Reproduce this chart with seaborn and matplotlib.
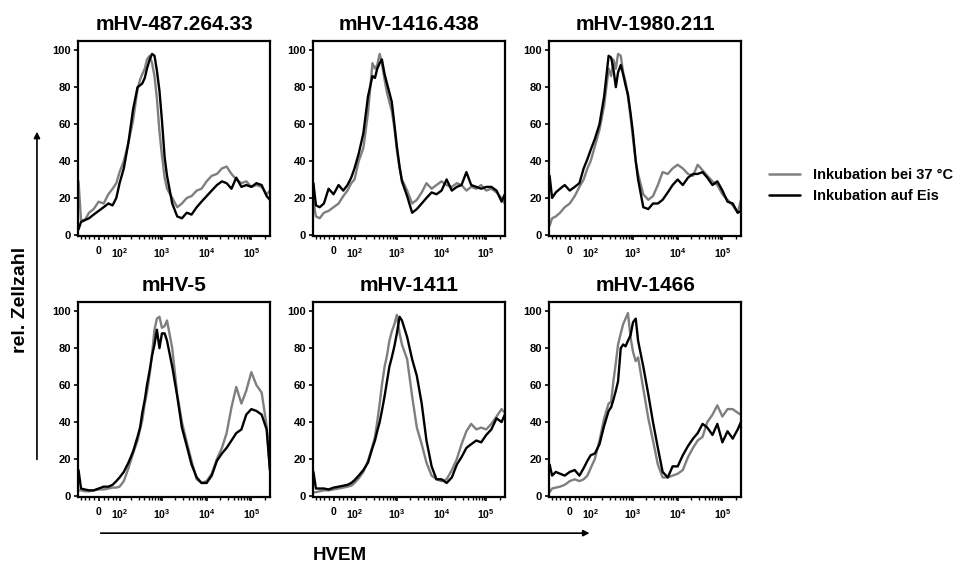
import matplotlib
matplotlib.use("Agg")
import matplotlib.pyplot as plt
import matplotlib.patches as mpatches
from matplotlib.lines import Line2D
from matplotlib.ticker import FixedLocator, FixedFormatter
import pandas as pd
import seaborn as sns

# HVEM intensity bins (shared x values of all histograms)
HVEM_BINS = [-95, -80, -60, -40, -20, 0, 20, 40, 60, 80,
             100, 130, 170, 220,
             280, 320, 360, 410, 460, 530, 600, 680, 770, 880, 1000, 1150, 1300,
             1700, 2200, 2800, 3600, 4600, 6000, 7700, 10000, 13000,
             17000, 22000, 28000, 36000, 46000, 60000, 77000, 100000, 130000, 170000,
             220000, 260000]

PANEL_TITLES = ["mHV-487.264.33", "mHV-1416.438", "mHV-1980.211",
                "mHV-5", "mHV-1411", "mHV-1466"]
CONDITIONS = ["Inkubation bei 37 °C", "Inkubation auf Eis"]
COLORS = ["#7f7f7f", "#000000"]

# relative cell counts (% of max), 37 °C vs. ice
mhv487_37c = [29, 8, 8, 12, 14, 18, 17, 22, 25, 28, 34, 40, 50, 62,
              79, 84, 87, 90, 95, 97, 93, 86, 74, 56, 43, 31, 25,
              20, 15, 17, 20, 21, 24, 25, 29, 32, 33, 36, 37, 33, 30, 28, 29, 26, 27, 26, 22, 24]
mhv487_ice = [3, 7, 8, 9, 11, 13, 15, 17, 16, 20, 28, 36, 50, 68,
              80, 81, 82, 85, 90, 95, 98, 97, 89, 78, 62, 42, 32,
              17, 10, 9, 12, 11, 15, 18, 21, 24, 27, 29, 28, 25, 31, 26, 27, 26, 28, 27, 21, 19]

mhv1416_37c = [18, 10, 9, 12, 13, 15, 17, 21, 24, 28, 30, 40, 47, 66,
               93, 90, 92, 98, 93, 84, 77, 72, 67, 58, 46, 36, 30,
               24, 17, 19, 23, 28, 25, 27, 29, 27, 26, 28, 27, 24, 26, 25, 27, 24, 25, 23, 20, 17]
mhv1416_ice = [28, 16, 15, 17, 25, 22, 27, 24, 27, 31, 36, 44, 55, 75,
               86, 85, 90, 93, 95, 87, 82, 77, 72, 60, 48, 37, 29,
               21, 12, 14, 17, 20, 23, 22, 24, 30, 24, 26, 27, 34, 27, 26, 25, 26, 26, 24, 18, 22]

mhv1980_37c = [5, 9, 10, 12, 15, 17, 21, 26, 30, 36, 40, 48, 57, 70,
               90, 86, 95, 90, 98, 97, 88, 83, 75, 64, 52, 40, 33,
               22, 19, 21, 27, 34, 33, 36, 38, 36, 33, 32, 38, 35, 32, 29, 27, 22, 19, 16, 12, 19]
mhv1980_ice = [32, 20, 23, 25, 27, 24, 26, 28, 36, 41, 46, 52, 60, 75,
               97, 96, 90, 80, 88, 92, 87, 81, 76, 66, 55, 40, 30,
               15, 14, 17, 17, 19, 23, 27, 30, 27, 31, 33, 33, 34, 31, 27, 29, 24, 18, 17, 12, 13]

mhv5_37c = [3, 3, 2.5, 2.5, 3, 3.5, 3.5, 4, 4.5, 4.5, 5, 8, 15, 23,
            30, 36, 41, 50, 56, 66, 77, 90, 96, 97, 91, 92, 95,
            80, 55, 40, 29, 19, 9, 7, 8, 12, 20, 26, 34, 48, 59, 50, 57, 67, 60, 56, 38, 15]
mhv5_ice = [14, 4, 3.5, 3, 3, 4, 5, 5, 6, 8, 10, 13, 18, 24,
            32, 37, 45, 52, 60, 68, 76, 82, 90, 80, 88, 88, 84,
            70, 54, 37, 27, 17, 10, 7, 7, 11, 19, 23, 26, 30, 34, 36, 44, 47, 46, 44, 36, 14]

mhv1411_37c = [2, 2, 2.5, 3, 3, 3.5, 4, 4.5, 5, 5.5, 7, 9.5, 13, 19,
               27, 32, 40, 50, 60, 70, 76, 84, 89, 93, 98, 88, 82,
               74, 54, 37, 28, 18, 11, 9, 8, 9, 14, 20, 28, 35, 39, 36, 37, 36, 39, 43, 47, 45]
mhv1411_ice = [13, 4, 4, 4, 3.5, 4.5, 5, 5.5, 6, 7, 8.5, 11, 14, 18,
               26, 30, 35, 40, 46, 54, 62, 70, 75, 81, 88, 97, 95,
               86, 74, 65, 50, 30, 16, 9, 9, 7, 10, 17, 21, 26, 28, 30, 29, 33, 36, 42, 40, 44]

mhv1466_37c = [2, 4, 4.5, 5, 6, 8, 9, 8, 9, 11, 15, 20, 30, 42,
               50, 51, 62, 72, 82, 88, 93, 96, 99, 86, 78, 73, 75,
               58, 42, 30, 17, 10, 10, 11, 12, 14, 21, 26, 30, 32, 40, 44, 49, 43, 47, 47, 45, 44]
mhv1466_ice = [17, 11, 13, 12, 11, 13, 14, 11, 15, 19, 22, 23, 28, 38,
               46, 48, 52, 57, 62, 80, 82, 81, 84, 87, 94, 96, 84,
               70, 55, 40, 26, 13, 10, 16, 16, 22, 27, 31, 34, 39, 37, 33, 39, 29, 35, 31, 36, 40]

PANEL_SERIES = [(mhv487_37c, mhv487_ice), (mhv1416_37c, mhv1416_ice), (mhv1980_37c, mhv1980_ice),
                (mhv5_37c, mhv5_ice), (mhv1411_37c, mhv1411_ice), (mhv1466_37c, mhv1466_ice)]

MAJOR_TICKS = [0, 100, 1000, 10000, 100000]
MAJOR_LABELS = ["0", r"$\mathbf{10^2}$", r"$\mathbf{10^3}$", r"$\mathbf{10^4}$", r"$\mathbf{10^5}$"]
MINOR_TICKS = ([-80, -60, -40, -20, 20, 40, 60, 80]
               + [m * 100 for m in range(2, 10)] + [m * 1000 for m in range(2, 10)]
               + [m * 10000 for m in range(2, 10)] + [200000])

sns.set_theme(style="ticks")
plt.rcParams["font.family"] = ["Liberation Sans", "DejaVu Sans"]
plt.rcParams["font.weight"] = "bold"
plt.rcParams["text.color"] = "black"
plt.rcParams["xtick.color"] = "black"
plt.rcParams["ytick.color"] = "black"
plt.rcParams["mathtext.fontset"] = "custom"
plt.rcParams["mathtext.rm"] = "Liberation Sans:bold"
plt.rcParams["mathtext.bf"] = "Liberation Sans:bold"

fig = plt.figure(figsize=(9.6, 5.63), dpi=100)

lefts = [0.0813, 0.326, 0.572]
bottoms = [0.5808, 0.1172]
width, height = 0.2, 0.3464

for i, (title, (warm, ice)) in enumerate(zip(PANEL_TITLES, PANEL_SERIES)):
    ax = fig.add_axes([lefts[i % 3], bottoms[i // 3], width, height])
    df = pd.DataFrame({
        "HVEM": HVEM_BINS * 2,
        "count": warm + ice,
        "condition": [CONDITIONS[0]] * len(warm) + [CONDITIONS[1]] * len(ice),
    })
    sns.lineplot(data=df, x="HVEM", y="count", hue="condition", hue_order=CONDITIONS,
                 palette=dict(zip(CONDITIONS, COLORS)), estimator=None, linewidth=1.7,
                 legend=False, ax=ax)
    ax.set_xscale("asinh", linear_width=77)
    ax.set_xlim(-98, 262144)
    ax.set_ylim(-0.6, 105)
    ax.xaxis.set_major_locator(FixedLocator(MAJOR_TICKS))
    ax.xaxis.set_major_formatter(FixedFormatter(MAJOR_LABELS))
    ax.xaxis.set_minor_locator(FixedLocator(MINOR_TICKS))
    ax.set_yticks([0, 20, 40, 60, 80, 100])
    ax.tick_params(axis="both", which="major", direction="out", length=3, width=1.2,
                   pad=2, color="black", labelcolor="black")
    ax.tick_params(axis="y", labelsize=8)
    ax.tick_params(axis="x", which="major", labelsize=7.5, pad=4)
    ax.tick_params(axis="x", which="minor", direction="out", length=2, width=1, color="black")
    for lab in ax.get_xticklabels() + ax.get_yticklabels():
        lab.set_fontweight("bold")
    for spine in ax.spines.values():
        spine.set_visible(True)
        spine.set_linewidth(1.6)
        spine.set_color("black")
    ax.set_xlabel("")
    ax.set_ylabel("")
    ax.set_title(title, fontsize=15, fontweight="bold", pad=8, color="black")

handles = [Line2D([], [], color=c, lw=1.8) for c in COLORS]
fig.legend(handles, CONDITIONS, loc="center left", bbox_to_anchor=(0.801, 0.670),
           frameon=False, prop={"weight": "bold", "size": 10.5},
           handlelength=2.1, handletextpad=0.9, labelspacing=0.5,
           borderpad=0, borderaxespad=0)

# axis arrows and labels
fig.add_artist(mpatches.FancyArrowPatch((0.0385, 0.179), (0.0385, 0.771), transform=fig.transFigure,
                                        arrowstyle="-|>", mutation_scale=9, lw=1.2, color="black"))
fig.add_artist(mpatches.FancyArrowPatch((0.102, 0.053), (0.617, 0.053), transform=fig.transFigure,
                                        arrowstyle="-|>", mutation_scale=9, lw=1.2, color="black"))
fig.text(0.021, 0.467, "rel. Zellzahl", rotation=90, ha="center", va="center",
         fontsize=14, fontweight="bold", color="black")
fig.text(0.354, 0.013, "HVEM", ha="center", va="center", fontsize=13.5, fontweight="bold",
         color="black")

fig.savefig("out.png", dpi=100)
